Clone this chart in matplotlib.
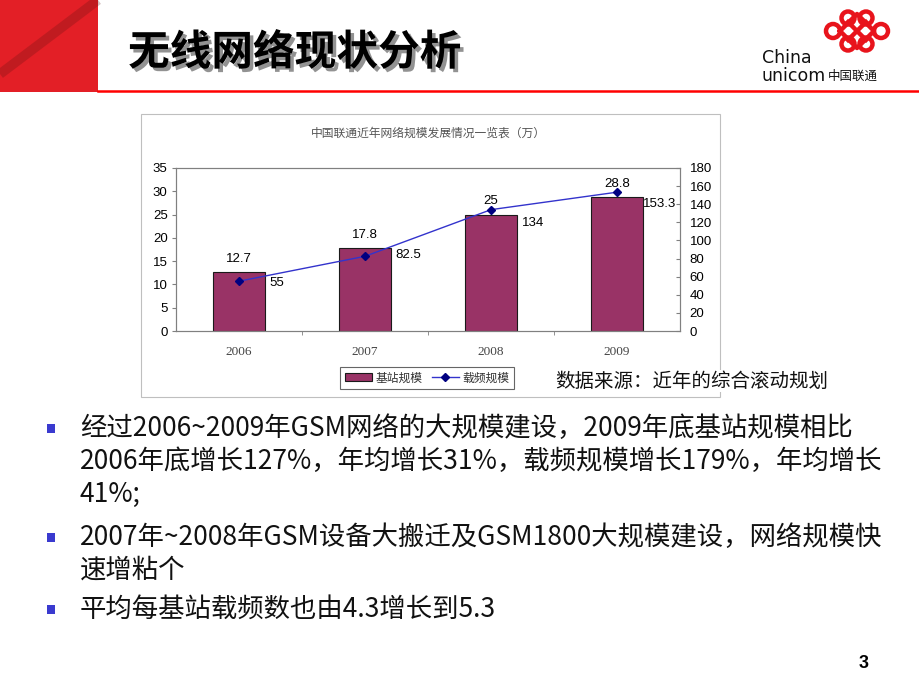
import matplotlib
matplotlib.use("Agg")
import matplotlib.pyplot as plt
import matplotlib.patches as mpatches
import matplotlib.patheffects as pe
from matplotlib.lines import Line2D

plt.rcParams['font.family'] = ['Noto Sans CJK SC', 'DejaVu Sans']

# data
years = ['2006', '2007', '2008', '2009']
stations = [12.7, 17.8, 25, 28.8]        # 基站规模 (万)
carriers = [55, 82.5, 134, 153.3]        # 载频规模 (万)
left_ticks = [0, 5, 10, 15, 20, 25, 30, 35]
right_ticks = [0, 20, 40, 60, 80, 100, 120, 140, 160, 180]

slide_title = '无线网络现状分析'
chart_title = '中国联通近年网络规模发展情况一览表（万）'
legend_labels = ['基站规模', '载频规模']
source_note = '数据来源：近年的综合滚动规划'
bullet_lines = [
    ['经过2006~2009年GSM网络的大规模建设，2009年底基站规模相比',
     '2006年底增长127%，年均增长31%，载频规模增长179%，年均增长',
     '41%;'],
    ['2007年~2008年GSM设备大搬迁及GSM1800大规模建设，网络规模快',
     '速增粘个'],
    ['平均每基站载频数也由4.3增长到5.3'],
]
page_no = '3'

W, H = 920, 690
fig = plt.figure(figsize=(W / 100, H / 100), dpi=100)
bg = fig.add_axes([0, 0, 1, 1])
bg.set_xlim(0, W)
bg.set_ylim(H, 0)
bg.axis('off')


def px_axes(x0, y0, x1, y1):
    return fig.add_axes([x0 / W, 1 - y1 / H, (x1 - x0) / W, (y1 - y0) / H])


# header
bg.add_patch(mpatches.Rectangle((0, 0), 98, 92, color='#E31F26', lw=0))
bg.plot([0, 98], [74, 0], color='#5a1010', lw=7, alpha=0.25, solid_capstyle='butt')
bg.plot([98, W], [91, 91], color='#FF0000', lw=1.8)
bg.text(128, 53, slide_title, fontsize=30, fontweight='bold', va='center', ha='left',
        path_effects=[pe.withSimplePatchShadow(offset=(2.5, -2.5), shadow_rgbFace='#777777', alpha=0.8)])

# logo (rough knot + wordmark)
knot = '#E8141C'
for cx, cy, r in [(833, 31, 7), (881, 31, 7), (848, 18, 6.5), (866, 18, 6.5), (848, 44, 6.5), (866, 44, 6.5)]:
    bg.add_patch(mpatches.Circle((cx, cy), r, fill=False, ec=knot, lw=3.2))
bg.plot([840, 857, 874, 857, 840], [31, 14, 31, 48, 31], color=knot, lw=3.2)
bg.plot([848, 866], [22, 40], color=knot, lw=3.2)
bg.plot([848, 866], [40, 22], color=knot, lw=3.2)
bg.text(762, 58, 'China', fontsize=12.5, family='DejaVu Sans', va='center', ha='left', color='#111111')
bg.text(762, 76, 'unicom', fontsize=12.5, family='DejaVu Sans', va='center', ha='left', color='#111111')
bg.text(828, 76, '中国联通', fontsize=9, va='center', ha='left', color='#111111')

# chart frame and title
bg.add_patch(mpatches.Rectangle((141, 114), 579, 283, fill=False, ec='#BFBFBF', lw=0.8))
bg.text(428, 133, chart_title, fontsize=8.5, color='#555555', ha='center', va='center')

ax = px_axes(176, 168, 680, 331)
x = list(range(len(years)))
ax.bar(x, stations, width=0.405, color='#993366', edgecolor='#1a1a1a', lw=0.8, zorder=2)
ax.set_xlim(-0.5, 3.5)
ax.set_ylim(0, 35)
ax.set_yticks(left_ticks)
ax.set_xticks(x)
ax.set_xticklabels(years, family='Liberation Serif', fontsize=9.5, color='#444444')
ax.set_xticks([0.5, 1.5, 2.5], minor=True)
ax.tick_params(axis='x', which='major', length=0, pad=11)
ax.tick_params(axis='x', which='minor', length=3, direction='out', color='#808080')
ax.tick_params(axis='y', length=3, direction='out', pad=3, labelsize=9.5, color='#808080')
for lab in ax.get_yticklabels():
    lab.set_family('Liberation Sans')
for s in ax.spines.values():
    s.set_color('#808080')
    s.set_linewidth(0.8)

for i, v in enumerate(stations):
    ax.annotate(f'{v:g}', (i, v), xytext=(0, 9.5), textcoords='offset points',
                ha='center', va='center', fontsize=9.5, family='Liberation Sans')

ax2 = ax.twinx()
ax2.plot(x, carriers, color='#3333CC', lw=1.0, marker='D', ms=4.5,
         mfc='#000080', mec='#000080', zorder=3)
ax2.set_ylim(0, 180)
ax2.set_yticks(right_ticks)
ax2.tick_params(axis='y', length=3, direction='in', pad=7, labelsize=9.5, color='#808080')
for lab in ax2.get_yticklabels():
    lab.set_family('Liberation Sans')
for s in ax2.spines.values():
    s.set_color('#808080')
    s.set_linewidth(0.8)

label_offsets = [(30, 2), (30, -1), (31, 13), (26, 12)]   # pixels right / down
for i, v in enumerate(carriers):
    dx, dy = label_offsets[i]
    ax2.annotate(f'{v:g}', (i, v), xytext=(dx * 0.72, -dy * 0.72), textcoords='offset points',
                 ha='left', va='center', fontsize=9.5, family='Liberation Sans')

handles = [mpatches.Patch(facecolor='#993366', edgecolor='#1a1a1a', lw=0.8),
           Line2D([], [], color='#3333CC', lw=1.0, marker='D', ms=4, mfc='#000080', mec='#000080')]
leg = fig.legend(handles, legend_labels, loc='center', bbox_to_anchor=(427 / W, 1 - 378 / H),
                 ncol=2, fontsize=8.5, frameon=True, fancybox=False, borderpad=0.35,
                 handlelength=2.3, handletextpad=0.3, columnspacing=0.8, labelcolor='#333333')
leg.get_frame().set_edgecolor('#404040')
leg.get_frame().set_linewidth(0.8)

bg.text(555, 381, source_note, fontsize=14, va='center', ha='left', color='#111111',
        bbox=dict(facecolor='white', edgecolor='none', pad=0.5), zorder=5)

# bullets
line_y = [[428, 461, 494], [537, 570], [609]]
for lines, ys in zip(bullet_lines, line_y):
    bg.add_patch(mpatches.Rectangle((47, ys[0] - 4), 8, 9, color='#3A3ACF', lw=0))
    for t, y in zip(lines, ys):
        bg.text(80, y, t, fontsize=19, va='center', ha='left', color='#111111')

bg.text(864, 663, page_no, fontsize=13, fontweight='bold', family='Liberation Sans',
        ha='center', va='center')

fig.savefig('out.png', dpi=100)
